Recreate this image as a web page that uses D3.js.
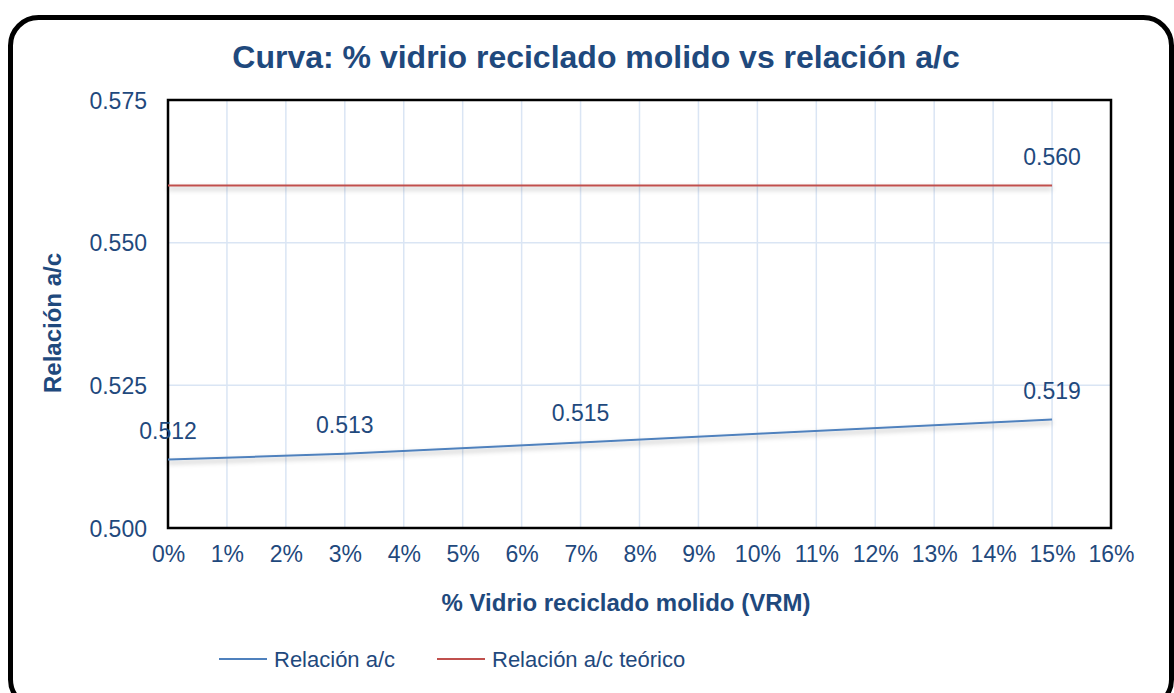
<!DOCTYPE html>
<html>
<head>
<meta charset="utf-8">
<script src="https://cdn.jsdelivr.net/npm/d3@7"></script>
<style>
  body { margin: 0; background: #fff; font-family: "Liberation Sans", Arial, sans-serif; }
</style>
</head>
<body>
<div id="graph"></div>
<script>
"use strict";

// Data
const vrmPct = [0, 3, 7, 15];
const acRatio = [0.512, 0.513, 0.515, 0.519];
const acTheoretical = [0.56, 0.56, 0.56, 0.56];
const xTicks = d3.range(0, 17);
const yTicks = [0.5, 0.525, 0.55, 0.575];
const seriesNames = ["Relación a/c", "Relación a/c teórico"];

const w = 1174;
const h = 693;
const margin = { top: 100, right: 63, bottom: 165, left: 168 };
const innerWidth = w - margin.left - margin.right;
const innerHeight = h - margin.top - margin.bottom;
const textColor = "#1f497d";
const colors = ["#4f81bd", "#c0504d"];

const svg = d3.select("#graph").append("svg").attr("width", w).attr("height", h);

// Drop shadow for the series lines (user space so flat lines keep it)
const defs = svg.append("defs");
const shadow = defs.append("filter").attr("id", "shadow")
  .attr("filterUnits", "userSpaceOnUse")
  .attr("x", -20).attr("y", -20).attr("width", w).attr("height", h);
shadow.append("feDropShadow").attr("dx", 0).attr("dy", 3).attr("stdDeviation", 2.5)
  .attr("flood-color", "#000").attr("flood-opacity", 0.3);

// Outer rounded frame
svg.append("rect")
  .attr("x", 10.5).attr("y", 17.5)
  .attr("width", 1161).attr("height", 690)
  .attr("rx", 28).attr("ry", 28)
  .attr("fill", "#fff").attr("stroke", "#000").attr("stroke-width", 5);

const x = d3.scaleLinear().domain([0, 16]).range([0, innerWidth]);
const y = d3.scaleLinear().domain([0.5, 0.575]).range([innerHeight, 0]);

const g = svg.append("g").attr("transform", `translate(${margin.left}, ${margin.top})`);

// Grid lines
g.append("g")
  .selectAll("line")
  .data(xTicks.slice(1, -1))
  .join("line")
  .attr("x1", (d) => x(d)).attr("x2", (d) => x(d))
  .attr("y1", 0).attr("y2", innerHeight)
  .attr("stroke", "#dae5f4").attr("stroke-width", 1.5);

g.append("g")
  .selectAll("line")
  .data(yTicks.slice(1, -1))
  .join("line")
  .attr("x1", 0).attr("x2", innerWidth)
  .attr("y1", (d) => y(d)).attr("y2", (d) => y(d))
  .attr("stroke", "#dae5f4").attr("stroke-width", 1.5);

// Plot border
g.append("rect")
  .attr("width", innerWidth).attr("height", innerHeight)
  .attr("fill", "none").attr("stroke", "#000").attr("stroke-width", 2.5);

// Axes
const xAxis = g.append("g")
  .attr("transform", `translate(0, ${innerHeight})`)
  .call(d3.axisBottom(x).tickValues(xTicks).tickFormat((d) => d + "%").tickSize(0).tickPadding(18));
const yAxis = g.append("g")
  .call(d3.axisLeft(y).tickValues(yTicks).tickFormat(d3.format(".3f")).tickSize(0).tickPadding(21));

[xAxis, yAxis].forEach((ax) => {
  ax.select(".domain").remove();
  ax.selectAll("text")
    .attr("fill", textColor)
    .style("font-family", "Liberation Sans, Arial, sans-serif")
    .style("font-size", "23px");
});
yAxis.selectAll("text").attr("dy", "0.35em");

// Lines
const line = d3.line()
  .x((d) => x(d[0]))
  .y((d) => y(d[1]))
  .curve(d3.curveMonotoneX);

const series = [
  vrmPct.map((v, i) => [v, acRatio[i]]),
  vrmPct.map((v, i) => [v, acTheoretical[i]]),
];

series.forEach((s, i) => {
  g.append("path")
    .datum(s)
    .attr("fill", "none")
    .attr("stroke", colors[i])
    .attr("stroke-width", 2)
    .attr("filter", "url(#shadow)")
    .attr("d", line);
});

// Data labels
const labelData = vrmPct.map((v, i) => [v, acRatio[i]]);
labelData.push([vrmPct[vrmPct.length - 1], acTheoretical[acTheoretical.length - 1]]);

g.append("g")
  .selectAll("text")
  .data(labelData)
  .join("text")
  .attr("x", (d) => x(d[0]))
  .attr("y", (d) => y(d[1]) - 21)
  .attr("text-anchor", "middle")
  .attr("fill", textColor)
  .style("font-size", "23px")
  .text((d) => d3.format(".3f")(d[1]));

// Title
svg.append("text")
  .attr("x", 596).attr("y", 68)
  .attr("text-anchor", "middle")
  .attr("fill", textColor)
  .style("font-size", "32px")
  .style("font-weight", "bold")
  .text("Curva: % vidrio reciclado molido vs relación a/c");

// Axis titles
svg.append("text")
  .attr("x", 626).attr("y", 611)
  .attr("text-anchor", "middle")
  .attr("fill", textColor)
  .style("font-size", "24px")
  .style("font-weight", "bold")
  .text("% Vidrio reciclado molido (VRM)");

svg.append("text")
  .attr("transform", `translate(61, ${margin.top + innerHeight / 2 + 9}) rotate(-90)`)
  .attr("text-anchor", "middle")
  .attr("fill", textColor)
  .style("font-size", "24px")
  .style("font-weight", "bold")
  .text("Relación a/c");

// Legend
const legendPos = [219, 437];
const legend = svg.append("g").attr("transform", "translate(0, 659)");
const items = legend.selectAll("g")
  .data(seriesNames)
  .join("g")
  .attr("transform", (d, i) => `translate(${legendPos[i]}, 0)`);
items.append("line")
  .attr("x1", 0).attr("x2", 48)
  .attr("stroke", (d, i) => colors[i]).attr("stroke-width", 2);
items.append("text")
  .attr("x", 55).attr("dy", "0.35em")
  .attr("fill", textColor)
  .style("font-size", "22px")
  .text((d) => d);
</script>
</body>
</html>
